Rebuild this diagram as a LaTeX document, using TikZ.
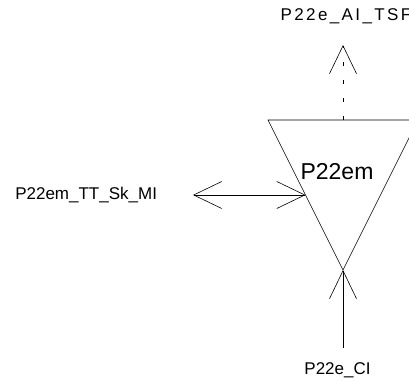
\documentclass[tikz,border=0pt]{standalone}
\usepackage{fontspec}
\setmainfont{Liberation Sans}
\usetikzlibrary{arrows.meta}
\begin{document}
\begin{tikzpicture}[x=1pt,y=-1pt,line width=0.6pt,>={Straight Barb[length=28pt,width=27pt]}]
			\tikzset{lbl/.style={inner sep=0pt,font=\fontsize{17}{17}\selectfont}}
			\clip (0,0) rectangle (409,385);
			\path 
			(268,120)coordinate(L)
			(418,120)coordinate(R)
			(343,270)coordinate(A)
			(343,120)coordinate(T)
			(343,45)coordinate(Ttip)
			(305.5,195)coordinate(S)
			(193,195)coordinate(Stip)
			(343,348)coordinate(Cend)
			;
			\draw (L)--(R)--(A)--cycle;
			\node[inner sep=0pt,font=\fontsize{23}{23}\selectfont] (pm) at (337,172) {P22em};
			\draw[->,dash pattern=on 4pt off 14pt] (T)--(Ttip);
			\draw[<->] (Stip)--(S);
			\draw[->] (Cend)--(A);
			\node[lbl] (tsf) at (346,16) {\addfontfeatures{LetterSpace=14}P22e\_AI\_TSF};
			\node[lbl,anchor=west] (mi) at (15,195) {P22em\_TT\_Sk\_MI};
			\node[lbl] (ci) at (337.5,370) {P22e\_CI};
		\end{tikzpicture}
\end{document}
